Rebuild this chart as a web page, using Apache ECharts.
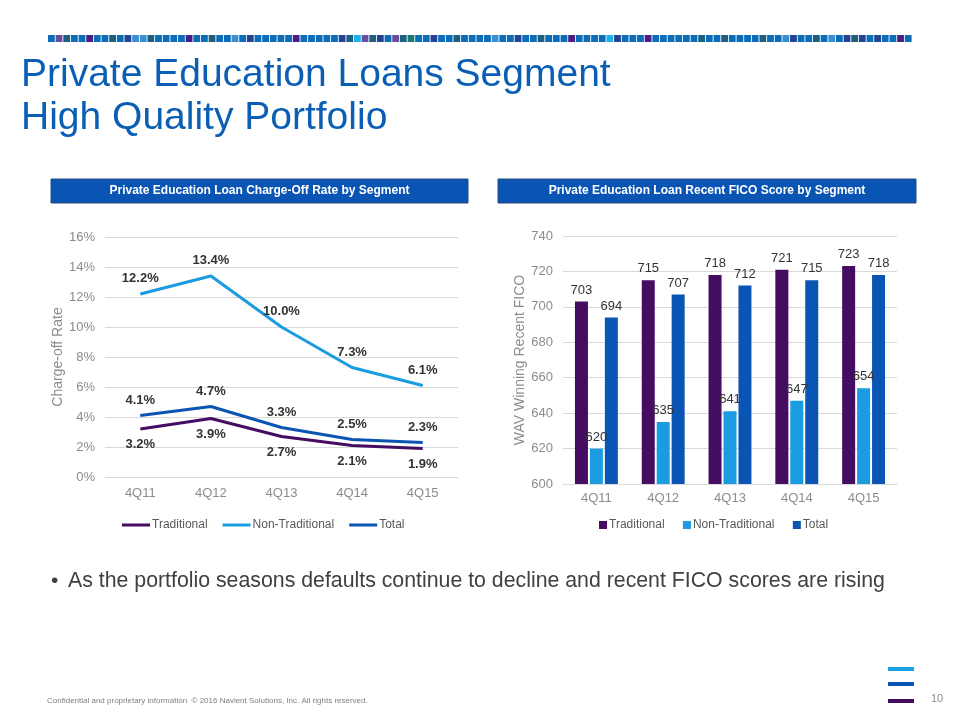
<!DOCTYPE html>
<html>
<head>
<meta charset="utf-8">
<script src="https://cdn.jsdelivr.net/npm/echarts@6/dist/echarts.min.js"></script>
<style>
html,body{margin:0;padding:0;background:#fff;}
#c{width:960px;height:720px;}
</style>
</head>
<body>
<div id="c"></div>
<script>
// ---- data ----
var quarters = ['4Q11', '4Q12', '4Q13', '4Q14', '4Q15'];
var chargeOffTraditional = [3.2, 3.9, 2.7, 2.1, 1.9];
var chargeOffNonTraditional = [12.2, 13.4, 10.0, 7.3, 6.1];
var chargeOffTotal = [4.1, 4.7, 3.3, 2.5, 2.3];
var ficoTraditional = [703, 715, 718, 721, 723];
var ficoNonTraditional = [620, 635, 641, 647, 654];
var ficoTotal = [694, 707, 712, 715, 718];
var seriesNames = ['Traditional', 'Non-Traditional', 'Total'];

var cPurple = '#440d62', cLight = '#1b9be0', cBlue = '#0a55b4';
var font = 'Arial, "Liberation Sans", sans-serif';

// decorative strip
var stripPal = {b:'#0b6cb8', p:'#6a4c9c', t:'#1d5f7f', P:'#4a1f85', n:'#244493', l:'#3a8fd0', L:'#1fb2ea', g:'#177a7a'};
var stripSeq = 'bptbbPbbtbnlltbbbbPbbtbblbnbbbbbPbbbbbntLptnbptgbbnbbtbbbblbbnbbtbbbPbbbbLnbbbPbbbbbbtbbtbbbbtbblnbbtblbntnbnbbPbbl';
var graphics = [];
var nSq = 113, x0 = 48, per = 7.65;
for (var i = 0; i < nSq; i++) {
  var ch = stripSeq.charAt(i % stripSeq.length);
  graphics.push({type:'rect', shape:{x: x0 + i*per, y:35, width:6.8, height:7}, style:{fill: stripPal[ch] || '#0b6cb8'}});
}
graphics.push(
  {type:'text', left:21, top:56, style:{text:'Private Education Loans Segment', font:'39px ' + font, fill:'#0a5fb4'}},
  {type:'text', left:21, top:99, style:{text:'High Quality Portfolio', font:'39px ' + font, fill:'#0a5fb4'}},
  {type:'rect', shape:{x:51, y:179, width:417, height:24}, style:{fill:'#0a55b4', stroke:'#274a7a', lineWidth:1}},
  {type:'text', x:259.5, y:191, style:{text:'Private Education Loan Charge-Off Rate by Segment', font:'bold 12px ' + font, fill:'#fff', align:'center', verticalAlign:'middle'}},
  {type:'rect', shape:{x:498, y:179, width:418, height:24}, style:{fill:'#0a55b4', stroke:'#274a7a', lineWidth:1}},
  {type:'text', x:707, y:191, style:{text:'Private Education Loan Recent FICO Score by Segment', font:'bold 12px ' + font, fill:'#fff', align:'center', verticalAlign:'middle'}},
  {type:'text', x:51, y:581, style:{text:'\u2022', font:'21px ' + font, fill:'#404040', verticalAlign:'middle'}},
  {type:'text', x:68, y:581, style:{text:'As the portfolio seasons defaults continue to decline and recent FICO scores are rising', font:'21.3px ' + font, fill:'#404040', verticalAlign:'middle'}},
  {type:'text', x:47, y:701, style:{text:'Confidential and proprietary information  \u00a9 2016 Navient Solutions, Inc. All rights reserved.', font:'8px ' + font, fill:'#7f7f7f', verticalAlign:'middle'}},
  {type:'text', x:931, y:699, style:{text:'10', font:'11px ' + font, fill:'#8c8c8c', verticalAlign:'middle'}},
  {type:'rect', shape:{x:888, y:667, width:26, height:4}, style:{fill:'#1aa3e4'}},
  {type:'rect', shape:{x:888, y:682, width:26, height:4}, style:{fill:'#0a55b4'}},
  {type:'rect', shape:{x:888, y:699, width:26, height:4}, style:{fill:'#440d62'}}
);

var axisLabelStyle = {color:'#8c8c8c', fontSize:13, fontFamily:font};
var lineLabel = function(pos){
  return {show:true, position:pos, distance:9, formatter: function(p){return p.value.toFixed(1) + '%';}, color:'#333', fontWeight:'bold', fontSize:13, fontFamily:font};
};
var barLabel = {show:true, position:'top', distance:5, color:'#333', fontSize:13, fontFamily:font};

var option = {
  animation:false,
  backgroundColor:'#fff',
  graphic: graphics,
  legend: [
    {left:117, top:514, itemWidth:28, itemHeight:3, itemGap:15, icon:'rect',
     textStyle:{color:'#595959', fontSize:12, fontFamily:font, padding:[0,0,0,-3]},
     data: seriesNames.map(function(n){return {name:n};}), selectedMode:false},
    {left:594, top:514, itemWidth:8, itemHeight:8, itemGap:15, icon:'rect',
     textStyle:{color:'#595959', fontSize:12, fontFamily:font, padding:[0,0,0,-3]},
     data: ['Traditional ', 'Non-Traditional ', 'Total '], selectedMode:false}
  ],
  grid: [
    {left:105, right:502, top:237, bottom:243},
    {left:563, right:63, top:236, bottom:236}
  ],
  xAxis: [
    {type:'category', gridIndex:0, data:quarters, boundaryGap:true,
     axisLine:{show:false}, axisTick:{show:false}, axisLabel:Object.assign({margin:10}, axisLabelStyle)},
    {type:'category', gridIndex:1, data:quarters, boundaryGap:true,
     axisLine:{show:true, lineStyle:{color:'#d9d9d9'}}, axisTick:{show:false}, axisLabel:Object.assign({margin:8}, axisLabelStyle)}
  ],
  yAxis: [
    {type:'value', gridIndex:0, min:0, max:16, interval:2,
     axisLabel:Object.assign({formatter:'{value}%', margin:10}, axisLabelStyle),
     splitLine:{lineStyle:{color:'#d9d9d9'}}, axisLine:{show:false}, axisTick:{show:false},
     name:'Charge-off Rate', nameLocation:'middle', nameGap:30, nameRotate:90,
     nameTextStyle:{color:'#8c8c8c', fontSize:14, fontFamily:font}},
    {type:'value', gridIndex:1, min:600, max:740, interval:20,
     axisLabel:Object.assign({margin:10}, axisLabelStyle),
     splitLine:{lineStyle:{color:'#d9d9d9'}}, axisLine:{show:false}, axisTick:{show:false},
     name:'WAV Winning Recent FICO', nameLocation:'middle', nameGap:31, nameRotate:90,
     nameTextStyle:{color:'#8c8c8c', fontSize:14, fontFamily:font}}
  ],
  series: [
    {name:'Traditional', type:'line', xAxisIndex:0, yAxisIndex:0, data:chargeOffTraditional,
     lineStyle:{width:3, color:cPurple}, itemStyle:{color:cPurple}, label:lineLabel('bottom')},
    {name:'Non-Traditional', type:'line', xAxisIndex:0, yAxisIndex:0, data:chargeOffNonTraditional,
     lineStyle:{width:3, color:cLight}, itemStyle:{color:cLight}, label:lineLabel('top')},
    {name:'Total', type:'line', xAxisIndex:0, yAxisIndex:0, data:chargeOffTotal,
     lineStyle:{width:3, color:cBlue}, itemStyle:{color:cBlue}, label:lineLabel('top')},
    {name:'Traditional ', type:'bar', xAxisIndex:1, yAxisIndex:1, data:ficoTraditional, barWidth:13, barGap:'15%',
     itemStyle:{color:cPurple}, label:barLabel},
    {name:'Non-Traditional ', type:'bar', xAxisIndex:1, yAxisIndex:1, data:ficoNonTraditional, barWidth:13, barGap:'15%',
     itemStyle:{color:cLight}, label:barLabel},
    {name:'Total ', type:'bar', xAxisIndex:1, yAxisIndex:1, data:ficoTotal, barWidth:13, barGap:'15%',
     itemStyle:{color:cBlue}, label:barLabel}
  ]
};
// show labels on line points even without visible symbols
option.series.forEach(function(s){ if (s.type === 'line') { s.symbol = 'circle'; s.symbolSize = 0.1; s.showSymbol = true; } });
var chart = echarts.init(document.getElementById('c'), null, {renderer:'canvas'});
chart.setOption(option);
</script>
</body>
</html>
